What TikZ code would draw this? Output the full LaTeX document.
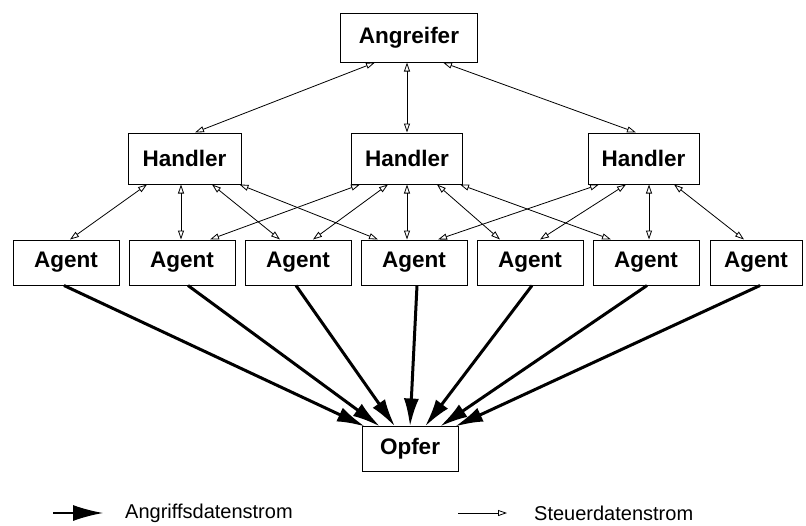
\documentclass[tikz,border=0pt]{standalone}
\usepackage{fontspec}
\setsansfont{Liberation Sans}
\usetikzlibrary{arrows.meta}

\tikzset{
  box/.style={draw, line width=1pt, inner sep=0pt, font=\sffamily\bfseries\fontsize{22.5}{26}\selectfont},
  ctrl/.style={line width=.8pt, <->, >={Triangle[open,length=9pt,width=6pt]}},
  ctrlone/.style={line width=.8pt, ->, >={Triangle[open,length=9pt,width=6pt]}},
  attack/.style={line width=3pt, -{Latex[length=28pt,width=15pt]}},
  attackkey/.style={line width=1.5pt, -{Latex[length=30pt,width=16pt]}},
  legend/.style={anchor=west, inner sep=0pt, font=\sffamily\fontsize{20}{24}\selectfont}
}

\begin{document}
\begin{tikzpicture}[x=1pt,y=-1pt]
\useasboundingbox (0,0) rectangle (806,525);

% nodes
\node[box, minimum width=137pt, minimum height=49pt] (ang) at (409,37.5) {Angreifer};

\node[box, minimum width=113pt, minimum height=51pt] (h1) at (184.5,158.5) {Handler};
\node[box, minimum width=111pt, minimum height=51pt] (h2) at (407,158.5) {Handler};
\node[box, minimum width=111pt, minimum height=51pt] (h3) at (643.5,158.5) {Handler};

\node[box, minimum width=106pt, minimum height=45pt] (a1) at (66,262.5) {Agent};
\node[box, minimum width=106pt, minimum height=45pt] (a2) at (182,262.5) {Agent};
\node[box, minimum width=106pt, minimum height=45pt] (a3) at (298,262.5) {Agent};
\node[box, minimum width=106pt, minimum height=45pt] (a4) at (414,262.5) {Agent};
\node[box, minimum width=106pt, minimum height=45pt] (a5) at (530,262.5) {Agent};
\node[box, minimum width=106pt, minimum height=45pt] (a6) at (646,262.5) {Agent};
\node[box, minimum width=92pt, minimum height=45pt] (a7) at (756,262.5) {Agent};

\node[box, minimum width=96pt, minimum height=45pt] (opf) at (410,448.5) {Opfer};

% Angreifer - Handler
\draw[ctrl] ([xshift=-34pt]ang.south) -- ([xshift=10.5pt]h1.north);
\draw[ctrl] ([xshift=-2pt]ang.south) -- (h2.north);
\draw[ctrl] ([xshift=34pt]ang.south) -- ([xshift=-7.5pt]h3.north);

% Handler - Agent
\draw[ctrl] ([xshift=-37.5pt]h1.south) -- ([xshift=4pt]a1.north);
\draw[ctrl] ([xshift=-3.5pt]h1.south) -- ([xshift=-1pt]a2.north);
\draw[ctrl] ([xshift=27.5pt]h1.south) -- ([xshift=-18pt]a3.north);
\draw[ctrl] ([xshift=55pt]h1.south) -- ([xshift=-36pt]a4.north);

\draw[ctrl] ([xshift=-47pt]h2.south) -- ([xshift=28pt]a2.north);
\draw[ctrl] ([xshift=-19pt]h2.south) -- ([xshift=15pt]a3.north);
\draw[ctrl] (h2.south) -- ([xshift=-7pt]a4.north);
\draw[ctrl] ([xshift=30pt]h2.south) -- ([xshift=-30pt]a5.north);
\draw[ctrl] ([xshift=53pt]h2.south) -- ([xshift=-35pt]a6.north);

\draw[ctrl] ([xshift=-44.5pt]h3.south) -- ([xshift=24pt]a4.north);
\draw[ctrl] ([xshift=-17.5pt]h3.south) -- ([xshift=10pt]a5.north);
\draw[ctrl] ([xshift=5.5pt]h3.south) -- ([xshift=3pt]a6.north);
\draw[ctrl] ([xshift=30.5pt]h3.south) -- ([xshift=-12pt]a7.north);

% Agent - Opfer
\draw[attack] ([xshift=-2pt]a1.south) -- ([xshift=-45pt,yshift=-1pt]opf.north);
\draw[attack] ([xshift=6pt]a2.south) -- ([xshift=-30pt,yshift=-1pt]opf.north);
\draw[attack] ([xshift=-2pt]a3.south) -- ([xshift=-15pt,yshift=-1pt]opf.north);
\draw[attack] ([xshift=3pt]a4.south) -- ([yshift=-1pt]opf.north);
\draw[attack] ([xshift=2pt]a5.south) -- ([xshift=15pt,yshift=-1pt]opf.north);
\draw[attack] ([xshift=1pt]a6.south) -- ([xshift=30pt,yshift=-1pt]opf.north);
\draw[attack] ([xshift=4pt]a7.south) -- ([xshift=45pt,yshift=-1pt]opf.north);

% legend
\coordinate (la) at (53,513);
\coordinate (lb) at (103,513);
\draw[attackkey] (la) -- (lb);
\node[legend] (lta) at (125,513) {Angriffsdatenstrom};

\coordinate (lc) at (458,513);
\coordinate (ld) at (507,513);
\draw[ctrlone] (lc) -- (ld);
\node[legend] (ltc) at (534,513) {Steuerdatenstrom};
\end{tikzpicture}
\end{document}
